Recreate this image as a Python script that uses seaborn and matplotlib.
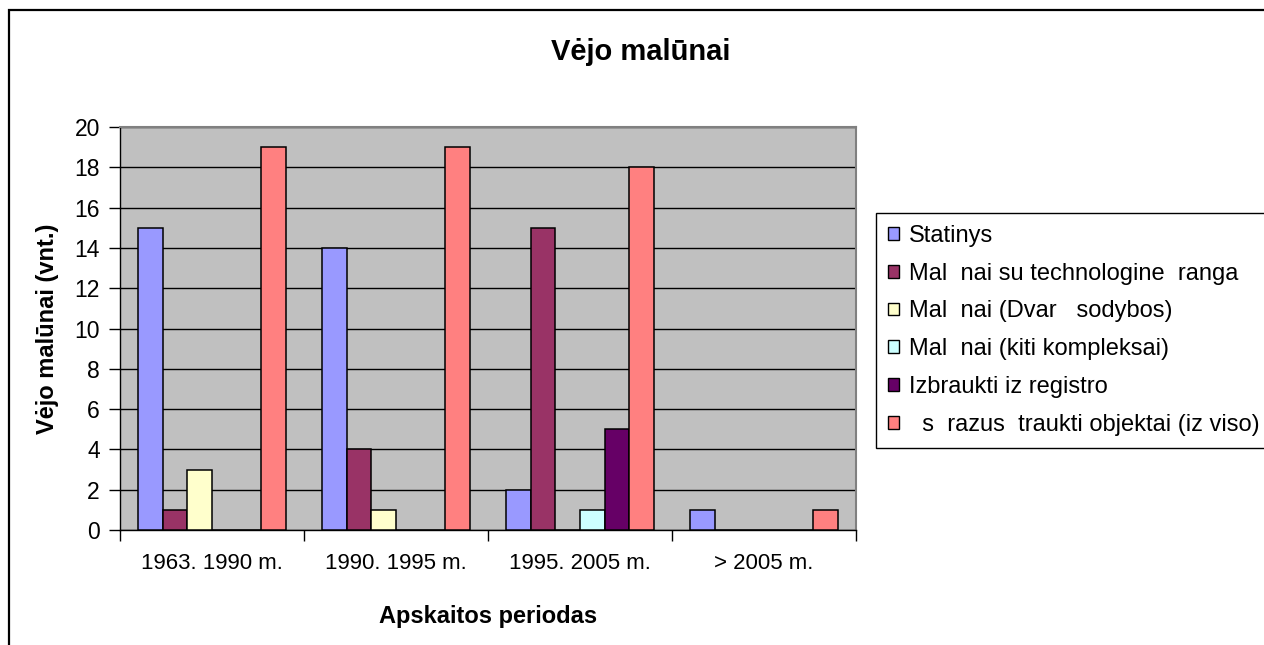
import matplotlib
matplotlib.use("Agg")
import matplotlib.pyplot as plt
from matplotlib.patches import Patch, Rectangle
import pandas as pd
import seaborn as sns

periods = ["1963. 1990 m.", "1990. 1995 m.", "1995. 2005 m.", "> 2005 m."]
series_names = [
    "Statinys",
    "Mal  nai su technologine  ranga",
    "Mal  nai (Dvar   sodybos)",
    "Mal  nai (kiti kompleksai)",
    "Izbraukti iz registro",
    "  s  razus  traukti objektai (iz viso)",
]
statinys = [15, 14, 2, 1]
technologine = [1, 4, 15, 0]
dvaru = [3, 1, 0, 0]
kiti = [0, 0, 1, 0]
izbraukti = [0, 0, 5, 0]
is_viso = [19, 19, 18, 1]
colors = ["#9999FF", "#993366", "#FFFFCC", "#CCFFFF", "#660066", "#FF8080"]

values = [statinys, technologine, dvaru, kiti, izbraukti, is_viso]
rows = []
for name, vals in zip(series_names, values):
    for p, v in zip(periods, vals):
        rows.append({"period": p, "series": name, "value": v})
df = pd.DataFrame(rows)

sns.set_style("white")
plt.rcParams["font.family"] = ["Liberation Sans", "DejaVu Sans"]
for k in ["text.color", "axes.labelcolor", "xtick.color", "ytick.color"]:
    plt.rcParams[k] = "black"

W, H = 1264, 645
fig = plt.figure(figsize=(W / 100, H / 100), dpi=100)
fig.patch.set_facecolor("white")

# outer chart frame
fig.patches.append(Rectangle((9 / W, -0.1), 1.2, 1 - 10 / H + 0.1,
                             transform=fig.transFigure, fill=False,
                             edgecolor="black", linewidth=1.6, zorder=0))

ax = fig.add_axes([120 / W, 1 - 530 / H, (856 - 120) / W, (530 - 127) / H])
ax.set_facecolor("#C0C0C0")

sns.barplot(data=df, x="period", y="value", hue="series", order=periods,
            hue_order=series_names, palette=colors, width=0.8,
            edgecolor="black", linewidth=1.1, saturation=1, ax=ax,
            legend=False, zorder=3)

ax.set_ylim(0, 20)
ax.set_xlim(-0.5, len(periods) - 0.5)
ax.set_yticks(range(0, 21, 2))
ax.yaxis.grid(True, color="black", linewidth=1.0, zorder=0)
ax.set_axisbelow(True)

ax.tick_params(axis="y", which="major", direction="out", length=8, width=1,
               color="black", pad=6.5, labelsize=16.5, left=True)
ax.set_xticks(range(len(periods)))
ax.set_xticklabels(periods)
ax.set_xticks([i - 0.5 for i in range(len(periods) + 1)], minor=True)
ax.tick_params(axis="x", which="major", length=0, pad=16.5, labelsize=16)
ax.tick_params(axis="x", which="minor", direction="out", length=8, width=1,
               color="black", bottom=True)

for side in ["left", "bottom"]:
    ax.spines[side].set_color("black")
    ax.spines[side].set_linewidth(1.0)
for side in ["top", "right"]:
    ax.spines[side].set_visible(True)
    ax.spines[side].set_color("#808080")
    ax.spines[side].set_linewidth(1.5)

ax.set_xlabel("Apskaitos periodas", fontsize=17, fontweight="bold")
ax.set_ylabel("Vėjo malūnai (vnt.)", fontsize=17, fontweight="bold")
ax.xaxis.set_label_coords(0.5, (530 - 616) / (530 - 127))
ax.xaxis.label.set_va("center")
ax.yaxis.set_label_coords((48 - 120) / (856 - 120), 0.5)
ax.yaxis.label.set_va("center")
ax.yaxis.label.set_ha("center")

fig.text(641 / W, 1 - 52 / H, "Vėjo malūnai", fontsize=21, fontweight="bold",
         ha="center", va="center")

handles = [Patch(facecolor=c, edgecolor="black", linewidth=1.0) for c in colors]
leg = fig.legend(handles, series_names, loc="upper left",
                 bbox_to_anchor=(876 / W, 1 - 213 / H), fontsize=17,
                 frameon=True, fancybox=False, framealpha=1,
                 edgecolor="black", handlelength=0.46, handleheight=0.46,
                 handletextpad=0.42, labelspacing=0.67, borderpad=0.5,
                 borderaxespad=0)
leg.get_frame().set_linewidth(1.0)

fig.savefig("out.png", dpi=100)
